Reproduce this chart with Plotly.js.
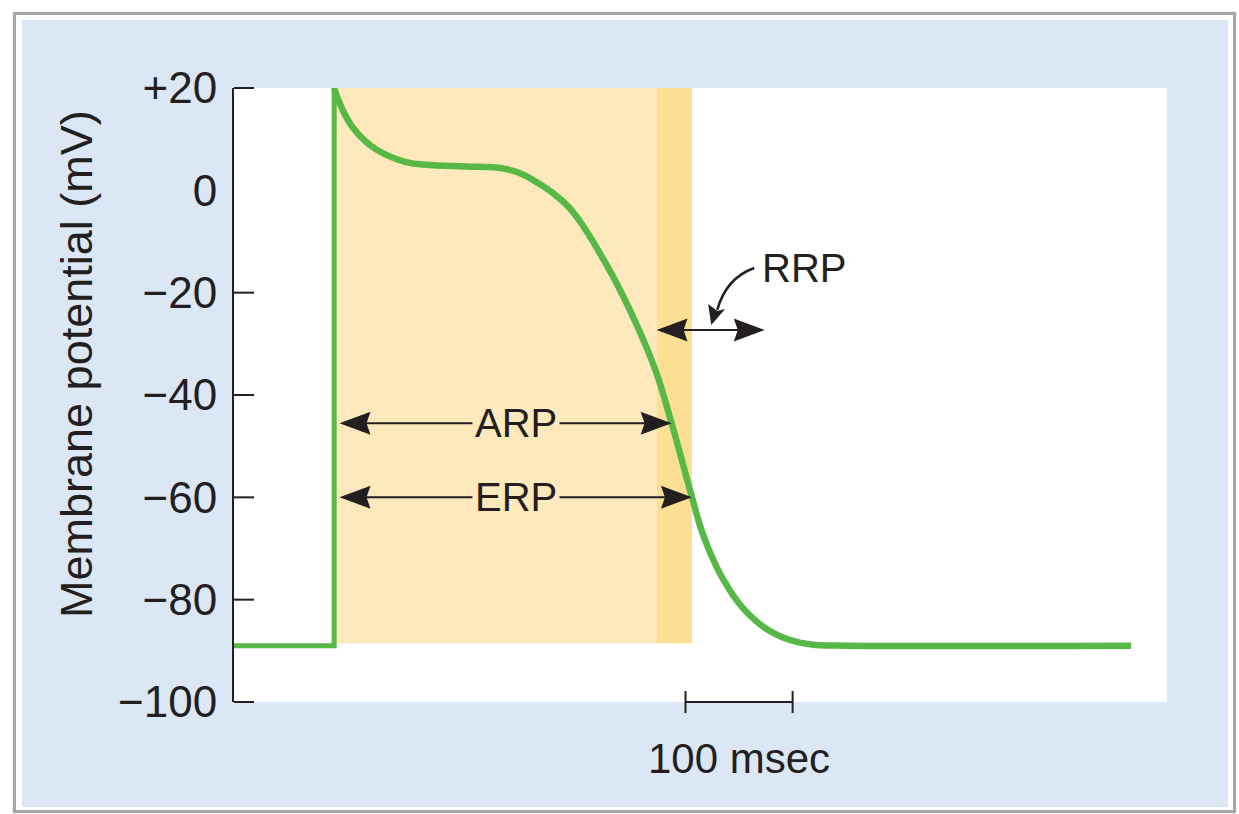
<!DOCTYPE html>
<html>
<head>
<meta charset="utf-8">
<script src="https://cdn.plot.ly/plotly-3.0.1.min.js"></script>
<style>
html,body{margin:0;padding:0;background:#ffffff;width:1239px;height:814px;overflow:hidden;}
#frame{position:absolute;left:13px;top:12px;width:1217px;height:795px;border:3px solid #a6a6a6;background:#ffffff;box-shadow:0 0 2px #cfcfcf;}
#chart{position:absolute;left:22px;top:20px;width:1206px;height:787px;}
</style>
</head>
<body>
<div id="frame"></div>
<div id="chart"></div>
<script>
// ---- data (time in ms relative to upstroke, membrane potential in mV) ----
const restT = [-93.5, 0, 0];
const restV = [-89, -89, 20];
const apT = [0, 5, 17, 33, 49, 67, 89, 110, 135, 154, 173, 189, 204, 220, 235, 250, 266, 285, 301, 315, 334, 344, 357, 364.5, 372, 381, 394, 404, 419, 434.6, 450, 481, 744];
const apV = [20, 17.1, 12.4, 8.9, 6.9, 5.5, 4.95, 4.75, 4.6, 4.4, 3.4, 1.6, -0.5, -3.5, -7.8, -13, -19.1, -27.5, -35.8, -45.5, -59.9, -67.1, -73.6, -76.5, -79.0, -81.5, -84.2, -85.8, -87.4, -88.4, -88.85, -89, -89];

const yRange = [-100, 20];
const yTickVals = [20, 0, -20, -40, -60, -80, -100];
const yTickText = ['+20', '0', '\u221220', '\u221240', '\u221260', '\u221280', '\u2212100'];
const yTickMarks = [20, -20, -40, -60, -80, -100];

const periodNames = ['ARP', 'ERP', 'RRP'];
const periodStart = [5, 5, 301];
const periodEnd = [315, 334, 402];
const periodLevel = [-45.5, -60, -27.3];

const arpZone = [0, 301];
const rrpZone = [301, 334];
const zoneV = [-88.5, 20];

const scaleBarMs = [328, 428];
const scaleLabel = '100 msec';
const yTitle = 'Membrane potential (mV)';

// ---- styling ----
const ink = '#231f20';
const green = '#58b847';
const font = 'Liberation Sans, Arial, Helvetica, sans-serif';

const traces = [
  {x: restT, y: restV, type: 'scatter', mode: 'lines',
   line: {color: green, width: 5}, hoverinfo: 'skip', showlegend: false},
  {x: apT, y: apV, type: 'scatter', mode: 'lines',
   line: {color: green, width: 6.5, shape: 'spline', smoothing: 1.3}, hoverinfo: 'skip', showlegend: false}
];

const shapes = [
  {type: 'rect', xref: 'x', yref: 'y', x0: arpZone[0], x1: arpZone[1], y0: zoneV[0], y1: zoneV[1],
   fillcolor: '#fde9bb', line: {width: 0}, layer: 'below'},
  {type: 'rect', xref: 'x', yref: 'y', x0: rrpZone[0], x1: rrpZone[1], y0: zoneV[0], y1: zoneV[1],
   fillcolor: '#fddf93', line: {width: 0}, layer: 'below'}
];

// inside tick marks on the y axis (no mark at 0 in the original)
yTickMarks.forEach(function (v) {
  const py = (v - yRange[0]) / (yRange[1] - yRange[0]);
  shapes.push({type: 'line', xref: 'paper', yref: 'paper', xsizemode: 'pixel', xanchor: 0,
               x0: 0, x1: 20, y0: py, y1: py, line: {color: ink, width: 2}, layer: 'above'});
});

function head(xa, ya, dir) {
  const L = 31, H = 11.5, N = 27;
  const p = dir < 0
    ? `M0,0 L${L},${H} L${N},0 L${L},${-H} Z`
    : `M0,0 L${-L},${H} L${-N},0 L${-L},${-H} Z`;
  return {type: 'path', xref: 'x', yref: 'y', xsizemode: 'pixel', ysizemode: 'pixel',
          xanchor: xa, yanchor: ya, path: p, fillcolor: ink, line: {width: 0}, layer: 'above'};
}

for (let i = 0; i < periodNames.length; i++) {
  shapes.push({type: 'line', xref: 'x', yref: 'y', x0: periodStart[i] + 3, x1: periodEnd[i] - 3,
               y0: periodLevel[i], y1: periodLevel[i], line: {color: ink, width: 2}, layer: 'above'});
  shapes.push(head(periodStart[i], periodLevel[i], -1));
  shapes.push(head(periodEnd[i], periodLevel[i], 1));
}

// curved pointer from the RRP label down to its arrow
shapes.push({type: 'path', xref: 'x', yref: 'y', xsizemode: 'pixel', ysizemode: 'pixel',
  xanchor: 352, yanchor: periodLevel[2],
  path: 'M43,62 C29,57 13,45 6,20', line: {color: ink, width: 2.5}, layer: 'above'});
shapes.push({type: 'path', xref: 'x', yref: 'y', xsizemode: 'pixel', ysizemode: 'pixel',
  xanchor: 352, yanchor: periodLevel[2],
  path: 'M0,5 L14,21 L6,19 L-3,26 Z', fillcolor: ink, line: {width: 0}, layer: 'above'});

// scale bar along the bottom edge of the plot
shapes.push({type: 'line', xref: 'x', yref: 'paper', x0: scaleBarMs[0], x1: scaleBarMs[1], y0: 0, y1: 0,
             line: {color: ink, width: 2}, layer: 'above'});
scaleBarMs.forEach(function (t) {
  shapes.push({type: 'line', xref: 'x', yref: 'paper', ysizemode: 'pixel',
               yanchor: 0, x0: t, x1: t, y0: -11, y1: 11,
               line: {color: ink, width: 2}, layer: 'above'});
});

const annotations = [
  {xref: 'x', yref: 'y', x: 170, y: periodLevel[0], text: periodNames[0], showarrow: false,
   font: {family: font, size: 40, color: ink}, bgcolor: '#fde9bb', borderpad: 2, xanchor: 'center', yanchor: 'middle'},
  {xref: 'x', yref: 'y', x: 170, y: periodLevel[1], text: periodNames[1], showarrow: false,
   font: {family: font, size: 40, color: ink}, bgcolor: '#fde9bb', borderpad: 2, xanchor: 'center', yanchor: 'middle'},
  {xref: 'x', yref: 'y', x: 439, y: -15.2, text: periodNames[2], showarrow: false,
   font: {family: font, size: 40, color: ink}, xanchor: 'center', yanchor: 'middle'},
  {xref: 'x', yref: 'paper', x: (scaleBarMs[0] + scaleBarMs[1]) / 2, y: 0, yshift: -56, text: scaleLabel,
   showarrow: false, font: {family: font, size: 42, color: ink}, xanchor: 'center', yanchor: 'middle'},
  {xref: 'paper', yref: 'paper', x: 0, xshift: -157, y: 0.5505, text: yTitle, textangle: -90,
   showarrow: false, font: {family: font, size: 45, color: ink}, xanchor: 'center', yanchor: 'middle'}
];

const layout = {
  width: 1206, height: 787,
  paper_bgcolor: '#dbe7f4', plot_bgcolor: '#ffffff',
  margin: {l: 212, r: 61, t: 68, b: 105, pad: 0},
  showlegend: false,
  font: {family: font, color: ink},
  xaxis: {range: [-93.5, 777.5], visible: false, fixedrange: true},
  yaxis: {range: yRange, tickvals: yTickVals, ticktext: yTickText, ticks: '',
          showline: true, linecolor: ink, linewidth: 2, showgrid: false, zeroline: false,
          tickfont: {family: font, size: 44, color: ink}, ticklabelstandoff: 6, fixedrange: true},
  shapes: shapes,
  annotations: annotations
};

Plotly.newPlot('chart', traces, layout, {displayModeBar: false, staticPlot: true});
</script>
</body>
</html>
